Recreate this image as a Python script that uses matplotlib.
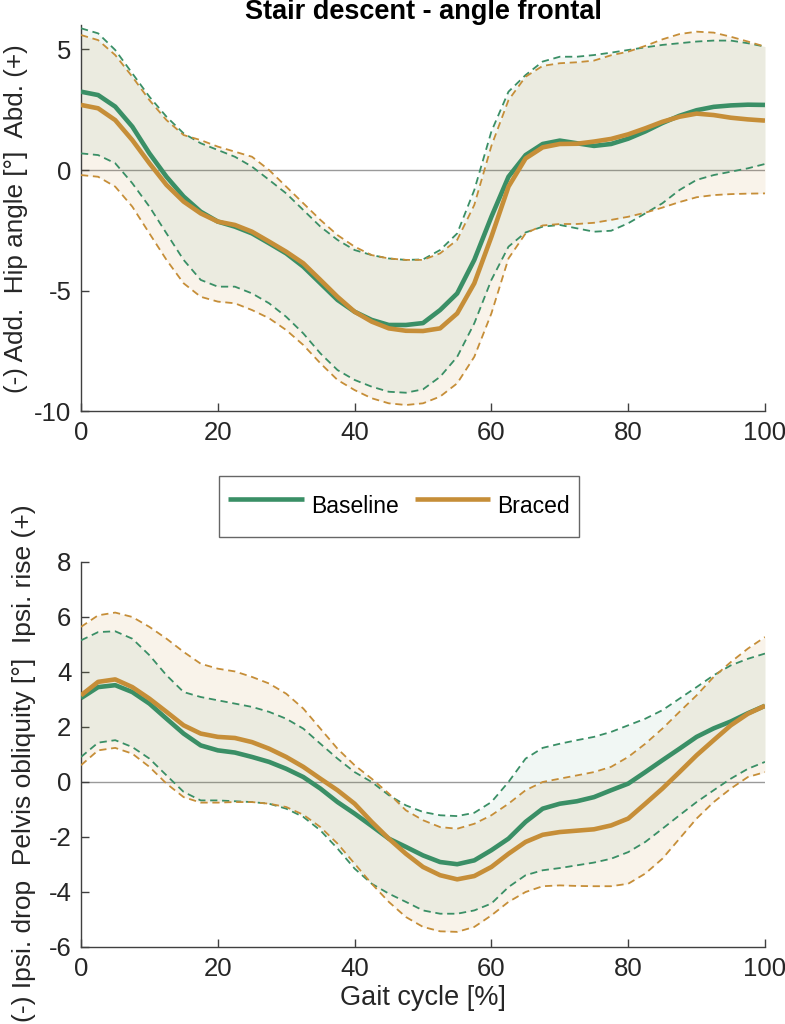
import numpy as np
import matplotlib
matplotlib.use("Agg")
import matplotlib.pyplot as plt

plt.rcParams['font.family'] = ['Liberation Sans', 'DejaVu Sans']
plt.rcParams['axes.unicode_minus'] = False

# ---------------- data ----------------
gait = [0, 2.5, 5, 7.5, 10, 12.5, 15, 17.5, 20, 22.5, 25, 27.5, 30, 32.5, 35, 37.5, 40,
        42.5, 45, 47.5, 50, 52.5, 55, 57.5, 60, 62.5, 65, 67.5, 70, 72.5, 75, 77.5, 80,
        82.5, 85, 87.5, 90, 92.5, 95, 97.5, 100]

# Hip angle (frontal)
hip_base_mean = [3.25, 3.11, 2.63, 1.8, 0.69, -0.28, -1.1, -1.73, -2.14, -2.35, -2.63, -3.04, -3.46,
                 -4.01, -4.7, -5.39, -5.88, -6.22, -6.43, -6.43, -6.35, -5.81, -5.12, -3.73, -1.94,
                 -0.28, 0.62, 1.08, 1.22, 1.11, 1.0, 1.08, 1.3, 1.6, 1.95, 2.25, 2.48, 2.62, 2.68,
                 2.71, 2.7]
hip_base_upper = [5.88, 5.67, 4.98, 4.01, 3.04, 2.21, 1.52, 1.11, 0.83, 0.55, 0.14, -0.41, -0.97,
                  -1.66, -2.35, -2.9, -3.32, -3.53, -3.67, -3.73, -3.71, -3.32, -2.63, -0.83, 1.6,
                  3.25, 3.94, 4.5, 4.7, 4.7, 4.77, 4.87, 4.98, 5.09, 5.19, 5.26, 5.33, 5.37, 5.37,
                  5.26, 5.12]
hip_base_lower = [0.69, 0.62, 0.28, -0.55, -1.52, -2.63, -3.73, -4.56, -4.84, -4.84, -5.12, -5.53,
                  -6.09, -6.78, -7.61, -8.3, -8.71, -8.99, -9.2, -9.24, -9.1, -8.58, -7.75, -6.36,
                  -4.56, -3.18, -2.59, -2.35, -2.28, -2.42, -2.56, -2.52, -2.21, -1.8, -1.38, -0.83,
                  -0.41, -0.21, -0.07, 0.07, 0.25]
hip_brac_mean = [2.7, 2.56, 2.07, 1.24, 0.28, -0.62, -1.31, -1.8, -2.14, -2.28, -2.56, -2.97, -3.39,
                 -3.87, -4.56, -5.26, -5.88, -6.29, -6.57, -6.67, -6.68, -6.57, -5.95, -4.7, -2.77,
                 -0.69, 0.48, 0.94, 1.08, 1.09, 1.18, 1.29, 1.48, 1.73, 2.0, 2.21, 2.34, 2.28, 2.17,
                 2.1, 2.05]
hip_brac_upper = [5.6, 5.39, 4.77, 3.87, 2.9, 2.07, 1.45, 1.24, 0.97, 0.76, 0.55, 0.0, -0.69, -1.38,
                  -2.07, -2.7, -3.18, -3.53, -3.67, -3.73, -3.73, -3.46, -2.9, -1.45, 1.0, 2.9, 3.87,
                  4.32, 4.43, 4.47, 4.54, 4.76, 4.91, 5.15, 5.42, 5.64, 5.74, 5.7, 5.53, 5.33, 5.12]
hip_brac_lower = [-0.21, -0.28, -0.69, -1.52, -2.63, -3.73, -4.7, -5.26, -5.46, -5.53, -5.81, -6.15,
                  -6.64, -7.26, -8.02, -8.71, -9.13, -9.47, -9.68, -9.75, -9.68, -9.4, -8.85, -7.75,
                  -5.95, -3.67, -2.63, -2.3, -2.24, -2.24, -2.19, -2.07, -1.94, -1.77, -1.56, -1.33,
                  -1.13, -1.04, -1.0, -0.98, -0.97]

# Pelvis obliquity
pel_base_mean = [3.05, 3.45, 3.52, 3.27, 2.85, 2.3, 1.76, 1.33, 1.15, 1.07, 0.91, 0.73, 0.48, 0.18,
                 -0.24, -0.73, -1.15, -1.6, -2.06, -2.36, -2.67, -2.91, -2.99, -2.85, -2.48, -2.06,
                 -1.45, -0.97, -0.79, -0.7, -0.55, -0.3, -0.06, 0.36, 0.79, 1.21, 1.64, 1.95, 2.2,
                 2.5, 2.77]
pel_base_upper = [5.15, 5.45, 5.48, 5.21, 4.61, 3.88, 3.27, 3.09, 2.97, 2.85, 2.73, 2.55, 2.3, 1.94,
                  1.39, 0.85, 0.36, 0.0, -0.48, -0.85, -1.09, -1.21, -1.24, -1.12, -0.73, 0.0, 0.85,
                  1.24, 1.39, 1.52, 1.64, 1.82, 2.06, 2.3, 2.61, 3.03, 3.45, 3.88, 4.24, 4.48, 4.67]
pel_base_lower = [0.91, 1.43, 1.52, 1.27, 0.85, 0.24, -0.36, -0.67, -0.67, -0.7, -0.73, -0.79, -0.97,
                  -1.27, -1.76, -2.42, -3.15, -3.7, -4.06, -4.36, -4.67, -4.79, -4.79, -4.67, -4.42,
                  -3.82, -3.39, -3.21, -3.13, -3.03, -2.93, -2.79, -2.55, -2.18, -1.7, -1.21, -0.73,
                  -0.3, 0.12, 0.48, 0.73]
pel_brac_mean = [3.15, 3.64, 3.73, 3.45, 3.03, 2.55, 2.06, 1.76, 1.64, 1.6, 1.45, 1.21, 0.91, 0.55,
                 0.12, -0.3, -0.79, -1.45, -2.06, -2.61, -3.09, -3.39, -3.54, -3.42, -3.09, -2.61,
                 -2.18, -1.92, -1.82, -1.77, -1.72, -1.58, -1.33, -0.79, -0.24, 0.36, 0.97, 1.52,
                 2.06, 2.48, 2.77]
pel_brac_upper = [5.64, 6.06, 6.16, 6.0, 5.64, 5.21, 4.73, 4.3, 4.12, 4.02, 3.82, 3.58, 3.21, 2.67,
                  1.94, 1.21, 0.61, 0.12, -0.42, -1.03, -1.39, -1.64, -1.7, -1.52, -1.21, -0.79,
                  -0.3, 0.0, 0.12, 0.24, 0.36, 0.55, 0.91, 1.39, 1.94, 2.55, 3.15, 3.82, 4.36, 4.85,
                  5.27]
pel_brac_lower = [0.61, 1.15, 1.24, 1.03, 0.55, -0.06, -0.55, -0.75, -0.75, -0.73, -0.73, -0.79,
                  -0.91, -1.19, -1.64, -2.24, -2.97, -3.7, -4.36, -4.91, -5.27, -5.43, -5.45, -5.27,
                  -4.85, -4.36, -4.0, -3.79, -3.76, -3.78, -3.79, -3.79, -3.7, -3.33, -2.79, -2.06,
                  -1.33, -0.73, -0.24, 0.18, 0.36]

labels = ["Baseline", "Braced"]
title = "Stair descent - angle frontal"
hip_ylabel = "(-) Add.  Hip angle [°]  Abd. (+)"
pel_ylabel = "(-) Ipsi. drop  Pelvis obliquity [°]  Ipsi. rise (+)"
xlabel = "Gait cycle [%]"
hip_yticks = [-10, -5, 0, 5]
pel_yticks = [-6, -4, -2, 0, 2, 4, 6, 8]
xticks = [0, 20, 40, 60, 80, 100]

# ---------------- style ----------------
GREEN = "#3a8f66"
ORANGE = "#c68e38"
AXC = "#404040"
TXT = "#262626"
FS = 18.5

fig = plt.figure(figsize=(7.85, 10.24), dpi=100)
ax1 = fig.add_axes([0.1032, 0.5986, 0.8713, 0.3766])
ax2 = fig.add_axes([0.1032, 0.0752, 0.8713, 0.3760])


def draw(ax, bm, bu, bl, om, ou, ol):
    ax.axhline(0, color="#9a9a9a", lw=1.0, zorder=1)
    ax.fill_between(gait, ol, ou, color=ORANGE, alpha=0.10, lw=0, zorder=2)
    ax.fill_between(gait, bl, bu, color=GREEN, alpha=0.07, lw=0, zorder=2)
    for arr, c in ((bu, GREEN), (bl, GREEN), (ou, ORANGE), (ol, ORANGE)):
        ax.plot(gait, arr, color=c, lw=1.3, dashes=(4, 2.6), zorder=3)
    l1, = ax.plot(gait, bm, color=GREEN, lw=3.3, zorder=4, solid_capstyle="butt",
                  solid_joinstyle="round")
    l2, = ax.plot(gait, om, color=ORANGE, lw=3.3, zorder=5, solid_capstyle="butt",
                  solid_joinstyle="round")
    ax.set_xlim(0, 100)
    ax.set_xticks(xticks)
    for s in ("top", "right"):
        ax.spines[s].set_visible(False)
    for s in ("left", "bottom"):
        ax.spines[s].set_color(AXC)
        ax.spines[s].set_linewidth(1.0)
    ax.tick_params(direction="in", length=6, width=1.0, color=AXC,
                   labelsize=FS, labelcolor=TXT, pad=7)
    return l1, l2


l1, l2 = draw(ax1, hip_base_mean, hip_base_upper, hip_base_lower,
              hip_brac_mean, hip_brac_upper, hip_brac_lower)
ax1.set_ylim(-10, 6)
ax1.set_yticks(hip_yticks)
ax1.set_ylabel(hip_ylabel, fontsize=18.8, color=TXT, labelpad=4)
ax1.set_title(title, fontsize=19.5, fontweight="bold", pad=2)

draw(ax2, pel_base_mean, pel_base_upper, pel_base_lower,
     pel_brac_mean, pel_brac_upper, pel_brac_lower)
ax2.set_ylim(-6, 8)
ax2.set_yticks(pel_yticks)
ax2.set_ylabel(pel_ylabel, fontsize=19.0, color=TXT, labelpad=4)
ax2.yaxis.set_label_coords(-0.066, 0.478)
ax2.set_xlabel(xlabel, fontsize=19.5, color=TXT, labelpad=3)

leg = fig.legend([l1, l2], labels, loc="center", bbox_to_anchor=(0.5083, 0.5054),
                 ncol=2, fontsize=16.5, frameon=True, fancybox=False,
                 edgecolor="#404040", handlelength=3.3, handleheight=2.5,
                 columnspacing=0.7, borderpad=0.4, handletextpad=0.3)
leg.get_frame().set_linewidth(1.0)

fig.savefig("out.png", dpi=100)
